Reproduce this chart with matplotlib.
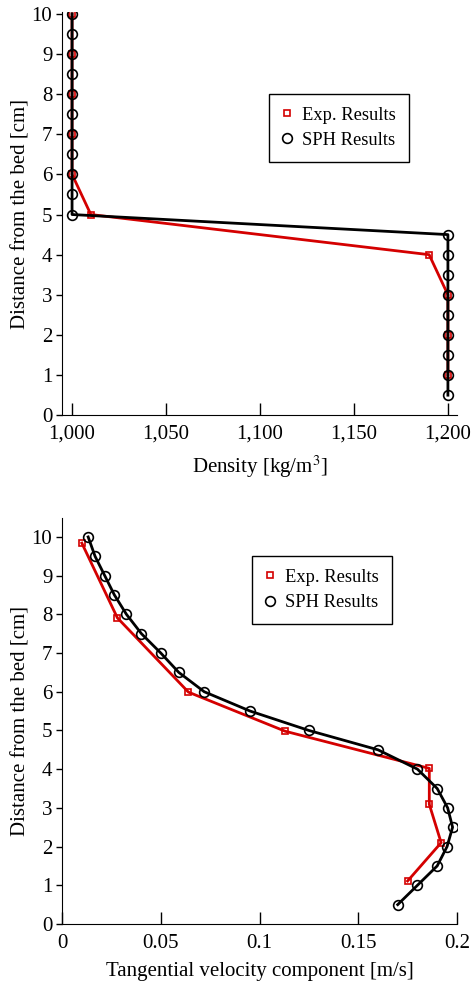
import matplotlib
matplotlib.use('Agg')
import matplotlib.pyplot as plt
from matplotlib.lines import Line2D

plt.rcParams['font.family'] = ['Liberation Serif', 'DejaVu Serif']
plt.rcParams['mathtext.fontset'] = 'stix'
plt.rcParams['font.size'] = 15

RED = '#d40000'

# Density profile
dens_exp_y = [10, 9, 8, 7, 6, 5, 4, 3, 2, 1]
dens_exp_x = [1000, 1000, 1000, 1000, 1000, 1010, 1190, 1200, 1200, 1200]
dens_sph_y = [10, 9.5, 9, 8.5, 8, 7.5, 7, 6.5, 6, 5.5, 5,
              4.5, 4, 3.5, 3, 2.5, 2, 1.5, 1, 0.5]
dens_sph_x = [1000]*11 + [1200]*9
dens_ticks = [1000, 1050, 1100, 1150, 1200]

# Tangential velocity profile
vel_exp_y = [9.84, 7.91, 5.99, 4.98, 4.02, 3.09, 2.10, 1.11]
vel_exp_x = [0.010, 0.028, 0.064, 0.113, 0.186, 0.186, 0.192, 0.175]
vel_sph_y = [10, 9.5, 9, 8.5, 8, 7.5, 7, 6.5, 6, 5.5, 5,
             4.5, 4, 3.5, 3, 2.5, 2, 1.5, 1, 0.5]
vel_sph_x = [0.0132, 0.0167, 0.0216, 0.0265, 0.0326, 0.0402, 0.050, 0.0591,
             0.072, 0.0953, 0.125, 0.160, 0.180, 0.190, 0.1953, 0.1978,
             0.195, 0.190, 0.180, 0.170]
vel_ticks = [0, 0.05, 0.1, 0.15, 0.2]
vel_labels = ['0', '0.05', '0.1', '0.15', '0.2']

fig = plt.figure(figsize=(4.74, 9.84), dpi=100)
ax1 = fig.add_axes([0.131, 0.578, 0.833, 0.410])
ax2 = fig.add_axes([0.131, 0.061, 0.833, 0.413])


def style(ax):
    for s in ['top', 'right']:
        ax.spines[s].set_visible(False)
    ax.tick_params(axis='x', direction='in', length=9, width=1, pad=7)
    ax.tick_params(axis='y', direction='out', length=4, width=1, pad=3)
    ax.set_ylabel('Distance from the bed [cm]', labelpad=0.5)


def legend(ax, anchor):
    handles = [Line2D([], [], ls='none', marker='s', ms=5, mfc='none', mec=RED, mew=1.2),
               Line2D([], [], ls='none', marker='o', ms=7, mfc='none', mec='k', mew=1.2)]
    leg = ax.legend(handles, ['Exp. Results', 'SPH Results'], loc='upper left',
                    bbox_to_anchor=anchor, fontsize=13.3, fancybox=False,
                    edgecolor='k', framealpha=1, handlelength=0.6,
                    handletextpad=0.5, borderpad=0.7, labelspacing=0.45,
                    borderaxespad=0)
    leg.get_frame().set_linewidth(1.0)


ax1.plot(dens_exp_x, dens_exp_y, color=RED, lw=2, marker='s', ms=5,
         mfc='none', mec=RED, mew=1.2)
ax1.plot(dens_sph_x, dens_sph_y, color='k', lw=2, marker='o', ms=7,
         mfc='none', mec='k', mew=1.2)
ax1.set_xlim(994.7, 1204.8)
ax1.set_ylim(0, 10.05)
ax1.set_xticks(dens_ticks)
ax1.set_xticklabels([f'{v:,}' for v in dens_ticks])
ax1.set_yticks(range(0, 11))
ax1.set_xlabel('Density [kg/m$^3$]', labelpad=7)
style(ax1)
legend(ax1, (0.524, 0.797))

ax2.plot(vel_exp_x, vel_exp_y, color=RED, lw=2, marker='s', ms=5,
         mfc='none', mec=RED, mew=1.2)
ax2.plot(vel_sph_x, vel_sph_y, color='k', lw=2, marker='o', ms=7,
         mfc='none', mec='k', mew=1.2)
ax2.set_xlim(0, 0.2)
ax2.set_ylim(0, 10.5)
ax2.set_xticks(vel_ticks)
ax2.set_xticklabels(vel_labels)
ax2.set_yticks(range(0, 11))
ax2.set_xlabel('Tangential velocity component [m/s]', labelpad=7)
style(ax2)
legend(ax2, (0.481, 0.906))

fig.savefig('out.png', dpi=100)
